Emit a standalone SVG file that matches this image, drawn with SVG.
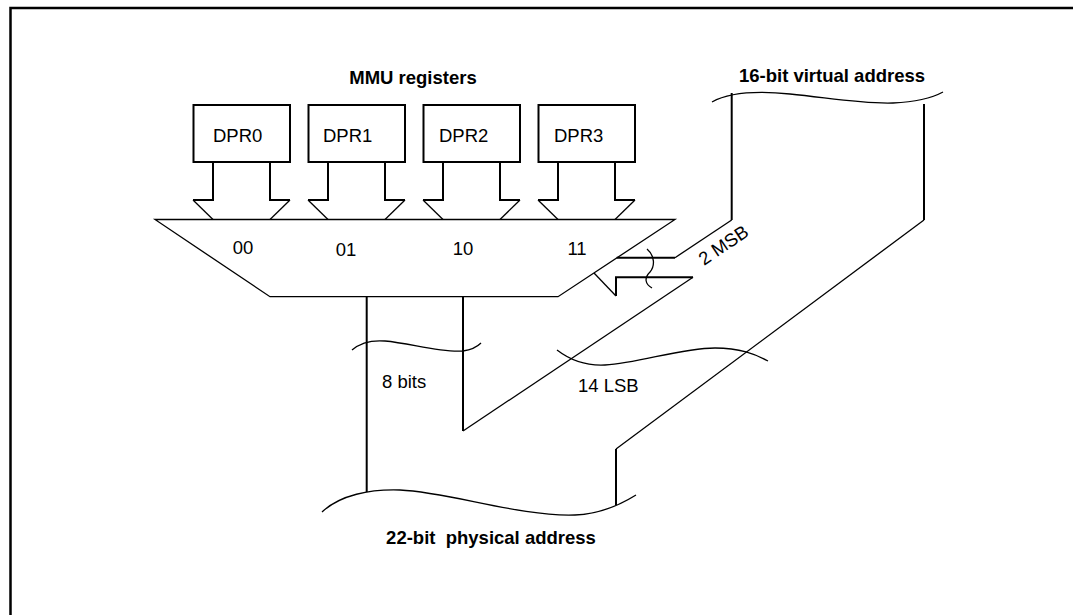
<svg xmlns="http://www.w3.org/2000/svg" width="1073" height="615" viewBox="0 0 1073 615">
<style>
.t{font-family:"Liberation Sans",Arial,sans-serif;font-size:18.5px;fill:#000}
.b{font-weight:bold}
.box{fill:#fff;stroke:#000;stroke-width:2}
.thick{fill:none;stroke:#000;stroke-width:2}
.thin{fill:none;stroke:#000;stroke-width:1.3}
</style>
<rect width="1073" height="615" fill="#fff"/>
<path d="M10.5,615 V8 H1073" fill="none" stroke="#000" stroke-width="2.5"/>
<text class="t b" x="413" y="84" text-anchor="middle">MMU registers</text>
<text class="t b" x="832" y="82" text-anchor="middle">16-bit virtual address</text>
<text class="t b" x="491" y="544" text-anchor="middle" xml:space="preserve">22-bit  physical address</text>

<g id="mux">
<polygon points="155,219.5 675,219.5 558,296.7 270,296.7" class="thin" fill="#fff"/>
<text class="t" x="243" y="254" text-anchor="middle">00</text>
<text class="t" x="346" y="256" text-anchor="middle">01</text>
<text class="t" x="463" y="255" text-anchor="middle">10</text>
<text class="t" x="577" y="255" text-anchor="middle">11</text>
</g>

<g id="dpr0">
<rect class="box" x="193.5" y="105" width="96.5" height="57"/>
<text class="t" x="213" y="142">DPR0</text>
<path class="thick" d="M213,162 V200 H193"/><path class="thin" d="M193,200 L213,219.5"/>
<path class="thick" d="M270,162 V200 H290"/><path class="thin" d="M290,200 L270,219.5"/>
</g>
<g id="dpr1">
<rect class="box" x="308.5" y="105" width="96.5" height="57"/>
<text class="t" x="323" y="142">DPR1</text>
<path class="thick" d="M328,162 V200 H308"/><path class="thin" d="M308,200 L328,219.5"/>
<path class="thick" d="M385,162 V200 H405"/><path class="thin" d="M405,200 L385,219.5"/>
</g>
<g id="dpr2">
<rect class="box" x="423.5" y="105" width="96.5" height="57"/>
<text class="t" x="439" y="142">DPR2</text>
<path class="thick" d="M443,162 V200 H423"/><path class="thin" d="M423,200 L443,219.5"/>
<path class="thick" d="M500,162 V200 H520"/><path class="thin" d="M520,200 L500,219.5"/>
</g>
<g id="dpr3">
<rect class="box" x="538.5" y="105" width="96.5" height="57"/>
<text class="t" x="554" y="142">DPR3</text>
<path class="thick" d="M558,162 V200 H538"/><path class="thin" d="M538,200 L558,219.5"/>
<path class="thick" d="M615,162 V200 H635"/><path class="thin" d="M635,200 L615,219.5"/>
</g>

<g id="connectors">
<!-- 2 MSB bus upper line -->
<path class="thick" d="M616.7,257.7 H675"/>
<path class="thin" d="M675,257.7 L731.7,220"/>
<path class="thick" d="M731.7,220 V93"/>
<!-- 2 MSB lower line / 14 LSB bus -->
<path class="thick" d="M693,277.3 H616 V296"/>
<path class="thin" d="M616,296 L594,273"/>
<path class="thin" d="M693,277.3 L463,431"/>
<path class="thick" d="M463,431 V296.7"/>
<!-- right bus line -->
<path class="thick" d="M924,104 V220"/>
<path class="thin" d="M924,220 L616,449"/>
<path class="thick" d="M616,449 V505"/>
<!-- 8 bits left line -->
<path class="thick" d="M366.7,296.7 V492"/>
<!-- break marks -->
<path class="thin" d="M712,102 C730,92 760,91 790,94 C830,98 860,104 893,103 C915,102 932,98 943,92"/>
<path class="thin" d="M322,512 C340,495 370,489 400,490 C450,492 520,517 575,515 C600,514 620,505 636,495"/>
<path class="thin" d="M352,350 C360,343 372,340 385,341 C410,343 440,353 463,351 C470,350 477,347 481,343"/>
<path class="thin" d="M557,350 C570,360 585,366 605,365 C640,363 680,348 715,348 C740,348 755,354 768,361"/>
<path class="thin" d="M647,249 C655,256 655,266 650,272 C644,278 645,284 652,288"/>
<text class="t" x="382" y="388">8 bits</text>
<text class="t" x="578" y="392">14 LSB</text>
<text class="t" transform="translate(704,266) rotate(-34)">2 MSB</text>
</g>
</svg>
